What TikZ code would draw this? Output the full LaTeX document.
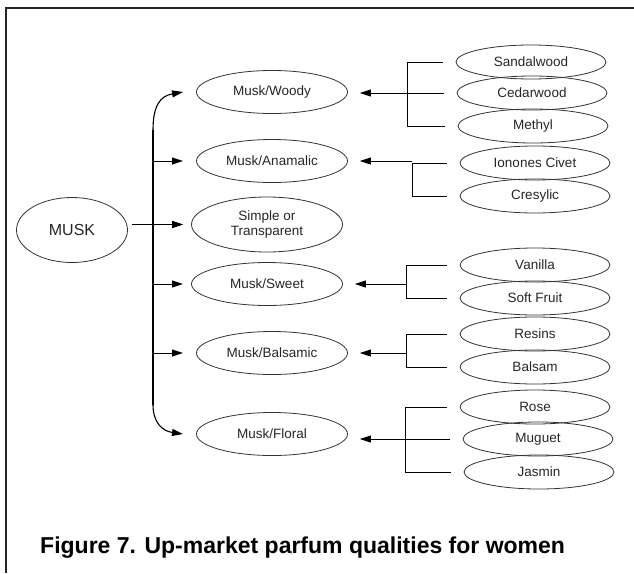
\documentclass[tikz,border=0pt]{standalone}
\usepackage{fontspec}
\setmainfont{Liberation Sans}
\usetikzlibrary{shapes.geometric,arrows.meta}
\tikzset{
	every note/.style={
		ellipse,
		draw=black!80,
		line width=0.8pt,
		inner sep=0pt,
		align=center,
		text=black!85,
		font=\fontsize{13.5}{15}\selectfont
	},
	note main/.style={
		minimum width=151pt,
		minimum height=43pt
	},
	note sub/.style={
		minimum width=150pt,
		minimum height=34pt
	},
	note simple/.style={
		minimum height=55pt
	},
	note musk/.style={
		minimum width=111pt,
		minimum height=65pt,
		font=\fontsize{16}{18}\selectfont
	},
}

\begin{document}
\begin{tikzpicture}[x=1pt, y=-1pt, >={Triangle[length=11pt,width=7pt]}]

\useasboundingbox (0,0) rectangle (634,573);
\draw [line width=1.3pt, black!85] (6,573) -- (6,8) -- (634,8);

\node [every note, note musk] (musk) at (72,230) {MUSK};

\foreach \n/\p/\l in {woody/{272,92}/{Musk/Woody}, anamalic/{272,161}/{Musk/Anamalic},
		simple/{267,224.5}/{Simple or\\Transparent}, sweet/{267,284}/{Musk/Sweet},
		balsamic/{272,353}/{Musk/Balsamic}, floral/{272,434}/{Musk/Floral}}
	\node [every note, note main, note \n/.try] (\n) at (\p) {\l};

\foreach \n/\x/\y/\l in {sandalwood/531/62/Sandalwood, cedarwood/532/93/Cedarwood,
		methyl/533/126/Methyl, ionones/535/163/Ionones Civet, cresylic/535/196/Cresylic,
		vanilla/535/265/Vanilla, fruit/535/298/Soft Fruit, resins/535/334/Resins,
		balsam/535/367/Balsam, rose/535/407/Rose, muguet/538/439/Muguet, jasmin/539/472/Jasmin}
	\node [every note, note sub] (\n) at (\x,\y) {\l};

\coordinate (trunk) at (153,0);
\coordinate (tips) at (183,0);
\coordinate (trunk-top) at (153,130);
\coordinate (trunk-bottom) at (153,405);

\draw [line width=1.2pt] (trunk-top) -- (trunk-bottom);
\draw [->, line width=1.1pt] (trunk-top) .. controls (153,106) and (160,96) .. (tips |- woody);
\draw [->, line width=1.1pt] (trunk-bottom) .. controls (153,422) and (162,431) .. (tips |- floral);

\draw [->, line width=0.9pt, shorten <=4pt] (musk.east |- simple) -- (tips |- simple);
\foreach \n in {anamalic,simple,sweet,balsamic}
	\draw [->, line width=0.9pt] (trunk |- \n) -- (tips |- \n);

\foreach \p/\b/\a/\f/\l/\cs in {woody/407/cedarwood/sandalwood/methyl/{sandalwood,cedarwood,methyl},
		anamalic/412/anamalic/ionones/cresylic/{ionones,cresylic},
		sweet/406/sweet/vanilla/fruit/{vanilla,fruit},
		balsamic/406/balsamic/resins/balsam/{resins,balsam},
		floral/405/muguet/rose/jasmin/{rose,muguet,jasmin}}
{
	\coordinate (\p-bar) at (\b,0);
	\draw [line width=0.8pt] (\p-bar |- \f) -- (\p-bar |- \l);
	\foreach \c in \cs
		\draw [line width=0.8pt, shorten >=13pt] (\p-bar |- \c) -- (\c.west);
	\draw [->, line width=0.9pt, shorten >=12pt] (\p-bar |- \a) -- (\p.east |- \a);
}

\node [anchor=base west, inner sep=0pt, font=\bfseries\fontsize{23}{26}\selectfont] (caption)
	at (40,553) {Figure 7. Up-market parfum qualities for women};

\end{tikzpicture}
\end{document}
